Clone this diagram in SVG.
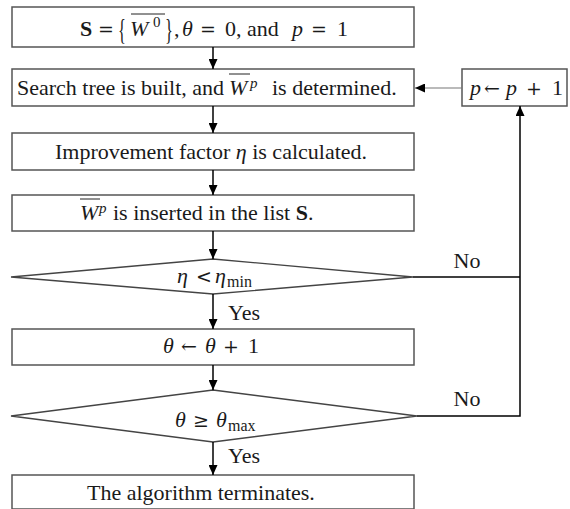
<svg xmlns="http://www.w3.org/2000/svg" width="570" height="509" viewBox="0 0 570 509">
  <defs>
    <marker id="arrow" viewBox="0 0 10 10" refX="10" refY="5" markerWidth="10" markerHeight="9" markerUnits="userSpaceOnUse" orient="auto" preserveAspectRatio="none">
      <path d="M0,0 L10,5 L0,10 z" fill="#000"/>
    </marker>
    <style>
      .box { fill: #fff; stroke: #555; stroke-width: 1.5; }
      .dia { fill: #fff; stroke: #444; stroke-width: 1.3; }
      .t { font-family: "Liberation Serif", "Times New Roman", serif; font-size: 22px; fill: #1a1a1a; }
      .op { font-family: "DejaVu Serif", "Liberation Serif", serif; font-size: 19px; fill: #1a1a1a; }
      .c { text-anchor: middle; }
      .m { font-style: italic; }
      .b { font-weight: bold; }
      .sup { font-size: 15px; }
      .sub { font-size: 16px; }
      .brace { font-size: 30px; }
      .bar { stroke: #222; stroke-width: 1; }
      .conn { stroke: #000; stroke-width: 1.5; fill: none; }
      .conn-thin { stroke: #777; stroke-width: 1.2; fill: none; }
    </style>
  </defs>

  <!-- initialisation: S = {W0}, theta = 0, p = 1 -->
  <g id="init">
    <rect class="box" x="12" y="7" width="402" height="40"/>
    <text class="t b" x="80" y="36">S</text>
    <text class="op" x="98" y="36">=</text>
    <text class="t brace" transform="translate(118,39) scale(0.55,1)">{</text>
    <text class="t m" x="130" y="36">W</text>
    <text class="t sup" x="153" y="27">0</text>
    <text class="t brace" transform="translate(165,39) scale(0.55,1)">}</text>
    <text class="t" x="174" y="36">,</text>
    <text class="t m" x="182" y="36">θ</text>
    <text class="op" x="200" y="36">=</text>
    <text class="t" x="225" y="36">0,</text>
    <text class="t" x="247" y="36">and</text>
    <text class="t m" x="292" y="36">p</text>
    <text class="op" x="311" y="36">=</text>
    <text class="t" x="337" y="36">1</text>
    <line class="bar" x1="131" y1="14" x2="165" y2="14"/>
  </g>

  <!-- search tree built -->
  <g id="search">
    <rect class="box" x="12" y="69" width="402" height="37"/>
    <text class="t" x="17" y="95">Search tree is built, and</text>
    <text class="t m" x="229" y="95">W</text>
    <text class="t m sup" x="250" y="88">p</text>
    <text class="t" x="272" y="95">is determined.</text>
    <line class="bar" x1="229" y1="74" x2="250" y2="74"/>
  </g>

  <!-- improvement factor -->
  <g id="improve">
    <rect class="box" x="12" y="133" width="402" height="37"/>
    <text class="t c" x="211" y="159">Improvement factor <tspan class="m">η</tspan> is calculated.</text>
  </g>

  <!-- insert into list -->
  <g id="insert">
    <rect class="box" x="12" y="195" width="402" height="36"/>
    <text class="t m" x="80" y="220">W</text>
    <text class="t m sup" x="99" y="213">p</text>
    <text class="t" x="113" y="220">is inserted in the list <tspan class="b">S</tspan>.</text>
    <line class="bar" x1="80" y1="199" x2="100" y2="199"/>
  </g>

  <!-- decision: eta < eta_min -->
  <g id="check-eta">
    <polygon class="dia" points="213,259 413,277 213,294 11,277"/>
    <text class="t m" x="177" y="283">η</text>
    <text class="op" x="196" y="283" font-size="17">&lt;</text>
    <text class="t m" x="215" y="283">η</text>
    <text class="t sub" x="227" y="287">min</text>
  </g>

  <!-- theta increment -->
  <g id="inc-theta">
    <rect class="box" x="12" y="329" width="402" height="36"/>
    <text class="t m" x="163" y="353">θ</text>
    <text class="op" x="181" y="353" font-size="17">←</text>
    <text class="t m" x="205" y="353">θ</text>
    <text class="op" x="223" y="353">+</text>
    <text class="t" x="248" y="353">1</text>
  </g>

  <!-- decision: theta >= theta_max -->
  <g id="check-theta">
    <polygon class="dia" points="213,390 417,416 213,442 11,416"/>
    <text class="t m" x="175" y="427">θ</text>
    <text class="op" x="193" y="427" font-size="17">≥</text>
    <text class="t m" x="216" y="427">θ</text>
    <text class="t sub" x="228" y="431">max</text>
  </g>

  <!-- termination -->
  <g id="terminate">
    <rect class="box" x="12" y="475" width="402" height="34"/>
    <text class="t" x="87" y="500">The algorithm terminates.</text>
  </g>

  <!-- p increment -->
  <g id="inc-p">
    <rect class="box" x="462" y="69" width="105" height="37"/>
    <text class="t m" x="470" y="95">p</text>
    <text class="op" x="484" y="95" font-size="17">←</text>
    <text class="t m" x="506" y="95">p</text>
    <text class="op" x="526" y="95">+</text>
    <text class="t" x="552" y="95">1</text>
  </g>

  <!-- connectors -->
  <g id="connectors">
    <line class="conn" x1="213" y1="47" x2="213" y2="69" marker-end="url(#arrow)"/>
    <line class="conn" x1="213" y1="106" x2="213" y2="133" marker-end="url(#arrow)"/>
    <line class="conn" x1="213" y1="170" x2="213" y2="195" marker-end="url(#arrow)"/>
    <line class="conn" x1="213" y1="231" x2="213" y2="259" marker-end="url(#arrow)"/>
    <line class="conn" x1="213" y1="294" x2="213" y2="329" marker-end="url(#arrow)"/>
    <line class="conn" x1="213" y1="365" x2="213" y2="390" marker-end="url(#arrow)"/>
    <line class="conn" x1="213" y1="442" x2="213" y2="475" marker-end="url(#arrow)"/>
    <polyline class="conn" points="413,277 520,277"/>
    <polyline class="conn" points="417,416 520,416 520,106" marker-end="url(#arrow)"/>
    <line class="conn-thin" x1="462" y1="88" x2="415" y2="88" marker-end="url(#arrow)"/>
    <text class="t" x="228" y="320">Yes</text>
    <text class="t" x="228" y="463">Yes</text>
    <text class="t c" x="467" y="268">No</text>
    <text class="t c" x="467" y="406">No</text>
  </g>
</svg>
